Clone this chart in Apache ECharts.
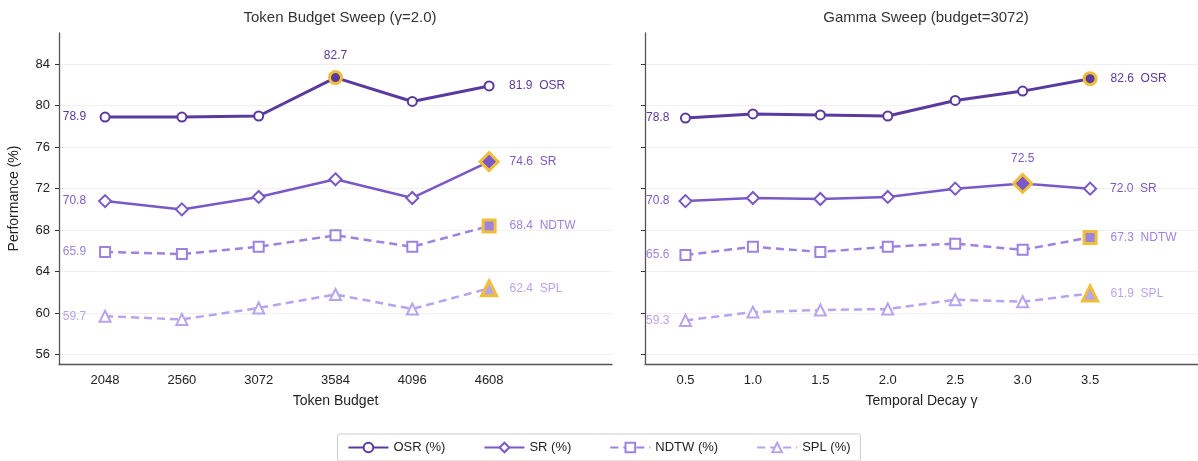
<!DOCTYPE html>
<html><head><meta charset="utf-8">
<script src="https://cdn.jsdelivr.net/npm/echarts@6/dist/echarts.min.js"></script>
<style>html,body{margin:0;padding:0;background:#fff}#c{width:1198px;height:461px}</style>
</head><body><div id="c"></div><script>
const budgetLabels = ['2048','2560','3072','3584','4096','4608'];
const gammaLabels = ['0.5','1.0','1.5','2.0','2.5','3.0','3.5'];
const yTicks = [56,60,64,68,72,76,80,84];

const budgetOSR  = [78.9,78.9,79.0,82.7,80.4,81.9];
const budgetSR   = [70.8,70.0,71.2,72.9,71.1,74.6];
const budgetNDTW = [65.9,65.7,66.4,67.5,66.4,68.4];
const budgetSPL  = [59.7,59.4,60.5,61.8,60.4,62.4];

const gammaOSR  = [78.8,79.2,79.1,79.0,80.5,81.4,82.6];
const gammaSR   = [70.8,71.1,71.0,71.2,72.0,72.5,72.0];
const gammaNDTW = [65.6,66.4,65.9,66.4,66.7,66.1,67.3];
const gammaSPL  = [59.3,60.1,60.3,60.4,61.3,61.1,61.9];

const FONT = '"Liberation Sans", Arial, Helvetica, sans-serif';
const GOLD = '#f0bf3a';
const metrics = [
  {name:'OSR (%)',  short:'OSR',  color:'#5b3a9f', symbol:'circle',   size:9,  bestSize:12, width:3,   dash:'solid'},
  {name:'SR (%)',   short:'SR',   color:'#7a58c6', symbol:'diamond',  size:12, bestSize:18, width:2.5, dash:'solid'},
  {name:'NDTW (%)', short:'NDTW', color:'#9d82e0', symbol:'rect',     size:10, bestSize:12, width:2.5, dash:[8,5]},
  {name:'SPL (%)',  short:'SPL',  color:'#b7a4ee', symbol:'triangle', size:11, bestSize:15, width:2.5, dash:[8,5]}
];

function mk(m, vals, gi, leftGap) {
  const n = vals.length;
  let best = 0;
  vals.forEach((v,i)=>{ if (v > vals[best]) best = i; });
  const data = vals.map((v,i)=>{
    const d = {value:[i,v]};
    let sz = m.size;
    if (i === best) {
      sz = m.bestSize;
      d.symbolSize = sz;
      d.itemStyle = {color:m.color, borderColor:GOLD, borderWidth:3};
    }
    if (i === 0) d.label = {show:true, position:'left', distance: leftGap - sz/2, formatter: v.toFixed(1)};
    else if (i === n-1) d.label = {show:true, position:'right', distance: 19 - sz/2, formatter: v.toFixed(1) + '  ' + m.short};
    else if (i === best) d.label = {show:true, position:'top', distance: 8, formatter: v.toFixed(1)};
    return d;
  });
  return {
    type:'line', name:m.name, xAxisIndex:gi, yAxisIndex:gi, data,
    symbol:m.symbol, symbolSize:m.size, showAllSymbol:true,
    lineStyle:{color:m.color, width:m.width, type:m.dash},
    itemStyle:{color:'#fff', borderColor:m.color, borderWidth:2},
    label:{color:m.color, fontSize:12, fontFamily:FONT},
    emphasis:{disabled:true}, animation:false
  };
}

const budgetSets = [budgetOSR, budgetSR, budgetNDTW, budgetSPL];
const gammaSets = [gammaOSR, gammaSR, gammaNDTW, gammaSPL];
const series = [];
metrics.forEach((m,k)=>{ series.push(mk(m, budgetSets[k], 0, 18)); });
metrics.forEach((m,k)=>{ series.push(mk(m, gammaSets[k], 1, 15)); });

function xAx(gi, labels, name) {
  return {
    type:'value', gridIndex:gi, min:-0.6, max:labels.length + 0.6,
    name, nameLocation:'middle', nameGap:30,
    nameTextStyle:{fontSize:14, color:'#222', fontFamily:FONT},
    axisLine:{show:true, onZero:false, lineStyle:{color:'#555', width:1.3}},
    axisTick:{show:false},
    splitLine:{show:false},
    axisLabel:{customValues:labels.map((_,i)=>i), formatter:(v)=>labels[Math.round(v)], fontSize:13, color:'#222', fontFamily:FONT, margin:10}
  };
}
function yAx(gi, showLabels) {
  return {
    type:'value', gridIndex:gi, min:55.1, max:87,
    name: showLabels ? 'Performance (%)' : '', nameLocation:'middle', nameGap:38,
    nameTextStyle:{fontSize:14, color:'#222', fontFamily:FONT},
    axisLine:{show:true, onZero:false, lineStyle:{color:'#555', width:1.3}},
    axisTick:{show:true, customValues:yTicks, length:4, lineStyle:{color:'#333'}},
    splitLine:{show:true, lineStyle:{color:'#f0f0f0', width:1}},
    axisLabel:{show:showLabels, customValues:yTicks, fontSize:13, color:'#222', fontFamily:FONT, margin:9}
  };
}

const chart = echarts.init(document.getElementById('c'), null, {renderer:'canvas'});
chart.setOption({
  backgroundColor:'#fff',
  animation:false,
  title:[
    {text:'Token Budget Sweep (γ=2.0)', left:335, top:5, textAlign:'center', textStyle:{fontSize:15, fontWeight:'normal', color:'#333', fontFamily:FONT}},
    {text:'Gamma Sweep (budget=3072)', left:921, top:5, textAlign:'center', textStyle:{fontSize:15, fontWeight:'normal', color:'#333', fontFamily:FONT}}
  ],
  grid:[
    {left:59, top:33, width:553, bottom:97},
    {left:645, top:33, width:553, bottom:97}
  ],
  xAxis:[xAx(0, budgetLabels, 'Token Budget'), xAx(1, gammaLabels, 'Temporal Decay γ')],
  yAxis:[yAx(0, true), yAx(1, false)],
  legend:{
    data: metrics.map(m=>m.name), left:'center', bottom:0,
    orient:'horizontal', itemWidth:40, itemHeight:12, itemGap:38,
    borderColor:'#cccccc', borderWidth:1, borderRadius:2, padding:[7,10],
    textStyle:{fontSize:13, color:'#222', fontFamily:FONT}
  },
  series
});
</script></body></html>
